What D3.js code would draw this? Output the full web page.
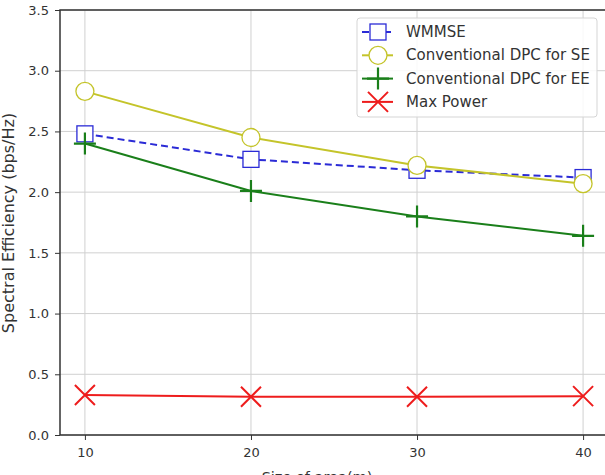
<!DOCTYPE html>
<html>
<head>
<meta charset="utf-8">
<script src="https://cdn.jsdelivr.net/npm/d3@7"></script>
<style>
  body { margin: 0; background: #fff; }
  text { font-family: "DejaVu Sans", sans-serif; fill: #333; }
</style>
</head>
<body>
<div id="graph"></div>
<script>
// data
var areaSizes = [10, 20, 30, 40];
var wmmse = [2.48, 2.27, 2.18, 2.12];
var dpcSE = [2.83, 2.45, 2.22, 2.07];
var dpcEE = [2.40, 2.01, 1.80, 1.64];
var maxPower = [0.33, 0.315, 0.315, 0.32];
var xTicks = [10, 20, 30, 40];
var yTicks = [0, 0.5, 1.0, 1.5, 2.0, 2.5, 3.0, 3.5];

var series = [
  {name: 'WMMSE', values: wmmse, color: '#2b2bd6', dash: '7,4', marker: 'square'},
  {name: 'Conventional DPC for SE', values: dpcSE, color: '#c4c42a', dash: null, marker: 'circle'},
  {name: 'Conventional DPC for EE', values: dpcEE, color: '#1a7f1a', dash: null, marker: 'plus'},
  {name: 'Max Power', values: maxPower, color: '#ee1c1c', dash: null, marker: 'cross'}
];

// fixed size graph
var margin = {top: 10, right: -3, bottom: 40, left: 60};
var width = 605 - margin.left - margin.right;
var height = 475 - margin.top - margin.bottom;

var x = d3.scaleLinear().domain([8.5, 41.5]).range([0, width]);
var y = d3.scaleLinear().domain([0, 3.5]).range([height, 0]);

var svg = d3.select('#graph')
  .append('svg')
  .attr('width', 605)
  .attr('height', 475)
.append('g')
  .attr('transform', 'translate(' + margin.left + ',' + margin.top + ')');

// grid
svg.append('g')
  .selectAll('line.gx')
  .data(xTicks)
  .enter().append('line')
  .attr('x1', function(d) { return x(d); })
  .attr('x2', function(d) { return x(d); })
  .attr('y1', 0).attr('y2', height)
  .attr('stroke', '#d0d0d0').attr('stroke-width', 1);
svg.append('g')
  .selectAll('line.gy')
  .data(yTicks)
  .enter().append('line')
  .attr('y1', function(d) { return y(d); })
  .attr('y2', function(d) { return y(d); })
  .attr('x1', 0).attr('x2', width)
  .attr('stroke', '#d0d0d0').attr('stroke-width', 1);

// axes
var xAxis = svg.append('g')
  .attr('transform', 'translate(0,' + height + ')')
  .call(d3.axisBottom(x).tickValues(xTicks).tickSize(5).tickPadding(8));
var yAxis = svg.append('g')
  .call(d3.axisLeft(y).tickValues(yTicks).tickSize(5).tickPadding(6).tickFormat(d3.format('.1f')));
[xAxis, yAxis].forEach(function(a) {
  a.select('.domain').remove();
  a.selectAll('line').attr('stroke', '#333');
  a.selectAll('text').style('font-size', '13px').style('font-family', '"DejaVu Sans", sans-serif').attr('fill', '#333');
});

// spines
svg.append('rect')
  .attr('x', 0).attr('y', 0)
  .attr('width', width).attr('height', height)
  .attr('fill', 'none').attr('stroke', '#333').attr('stroke-width', 1.5);

// axis labels (x label sits partly below the picture edge, as in the reference)
svg.append('text')
  .attr('x', 317 - margin.left).attr('y', height + 47)
  .attr('text-anchor', 'middle')
  .style('font-size', '14.5px')
  .text('Size of area(m)');
svg.append('text')
  .attr('transform', 'translate(' + (-46) + ',' + (223 - margin.top) + ') rotate(-90)')
  .attr('text-anchor', 'middle')
  .style('font-size', '16px')
  .text('Spectral Efficiency (bps/Hz)');

var line = d3.line()
  .x(function(d, i) { return x(areaSizes[i]); })
  .y(function(d) { return y(d); });

function drawMarker(g, type, color) {
  if (type === 'square') {
    g.append('rect').attr('x', -8).attr('y', -8).attr('width', 16).attr('height', 16)
      .attr('fill', '#fff').attr('stroke', color).attr('stroke-width', 1.3);
  } else if (type === 'circle') {
    g.append('circle').attr('r', 9)
      .attr('fill', '#fff').attr('stroke', color).attr('stroke-width', 1.3);
  } else if (type === 'plus') {
    g.append('path').attr('d', 'M-11,0H11M0,-11V11')
      .attr('stroke', color).attr('stroke-width', 2.2);
  } else if (type === 'cross') {
    g.append('path').attr('d', 'M-10,-10L10,10M-10,10L10,-10')
      .attr('stroke', color).attr('stroke-width', 2);
  }
}

series.forEach(function(s) {
  svg.append('path')
    .datum(s.values)
    .attr('fill', 'none')
    .attr('stroke', s.color)
    .attr('stroke-width', 2)
    .attr('stroke-dasharray', s.dash)
    .attr('d', line);
  s.values.forEach(function(v, i) {
    var g = svg.append('g').attr('transform', 'translate(' + x(areaSizes[i]) + ',' + y(v) + ')');
    drawMarker(g, s.marker, s.color);
  });
});

// legend
var legend = svg.append('g').attr('transform', 'translate(' + (357 - margin.left) + ',' + (18 - margin.top) + ')');
legend.append('rect')
  .attr('width', 240).attr('height', 99)
  .attr('rx', 3)
  .attr('fill', '#fff').attr('fill-opacity', 0.85)
  .attr('stroke', '#d5d5d5');
series.forEach(function(s, i) {
  var cy = 14 + i * 23.3;
  legend.append('line')
    .attr('x1', 5).attr('x2', 36)
    .attr('y1', cy).attr('y2', cy)
    .attr('stroke', s.color).attr('stroke-width', 2)
    .attr('stroke-dasharray', s.dash);
  var g = legend.append('g').attr('transform', 'translate(21,' + cy + ')');
  drawMarker(g, s.marker, s.color);
  legend.append('text')
    .attr('x', 49).attr('y', cy + 5)
    .style('font-size', '15px')
    .text(s.name);
});
</script>
</body>
</html>
